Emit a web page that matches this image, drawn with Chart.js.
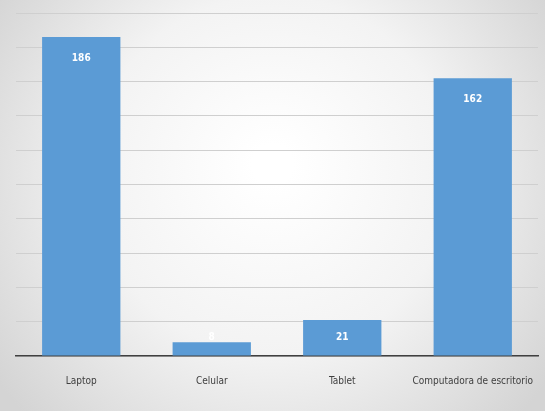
<!DOCTYPE html>
<html>
<head>
<meta charset="utf-8">
<script src="https://cdn.jsdelivr.net/npm/chart.js@4"></script>
<style>
  html, body { margin: 0; padding: 0; background: #e6e6e6; }
  #wrap { width: 545px; height: 411px; position: relative; }
</style>
</head>
<body>
<div id="wrap"><canvas id="c" width="545" height="411"></canvas></div>
<script>
// data
const categories = ["Laptop", "Celular", "Tablet", "Computadora de escritorio"];
const values = [186, 8, 21, 162];
const yMax = 200;
const yStep = 20;

const fontFam = "'DejaVu Sans Condensed', 'Liberation Sans Narrow', 'DejaVu Sans', sans-serif";

// gray radial background like the office chart
const bgPlugin = {
  id: "bg",
  beforeDraw(chart) {
    const { ctx, width, height } = chart;
    const g = ctx.createRadialGradient(width / 2, height * 0.4, 20, width / 2, height * 0.45, width * 0.62);
    g.addColorStop(0, "#ffffff");
    g.addColorStop(0.5, "#f3f3f3");
    g.addColorStop(1, "#d4d4d4");
    ctx.save();
    ctx.fillStyle = g;
    ctx.fillRect(0, 0, width, height);
    ctx.restore();
  }
};

// value labels near top of bars
const labelPlugin = {
  id: "vals",
  afterDatasetsDraw(chart) {
    const { ctx } = chart;
    const meta = chart.getDatasetMeta(0);
    ctx.save();
    ctx.fillStyle = "#ffffff";
    ctx.font = "bold 10px " + fontFam;
    ctx.textAlign = "center";
    ctx.textBaseline = "middle";
    meta.data.forEach((bar, i) => {
      const y = Math.min(bar.y + 21, bar.base - 18);
      ctx.fillText(String(values[i]), bar.x, y);
    });
    ctx.restore();
  }
};

new Chart(document.getElementById("c"), {
  type: "bar",
  data: {
    labels: categories,
    datasets: [{
      data: values,
      backgroundColor: "#5b9bd5",
      borderWidth: 0,
      categoryPercentage: 0.6,
      barPercentage: 1
    }]
  },
  options: {
    responsive: false,
    animation: false,
    layout: { padding: { left: 16, right: 7, top: 13, bottom: 13 } },
    plugins: {
      legend: { display: false },
      tooltip: { enabled: false }
    },
    scales: {
      x: {
        grid: { display: false },
        border: { display: true, color: "#404040", width: 1.5 },
        afterFit(scale) {
          scale.paddingLeft = 0;
          scale.paddingRight = 0;
        },
        ticks: {
          color: "#404040",
          font: { family: fontFam, size: 10 },
          padding: 11,
          maxRotation: 0,
          autoSkip: false
        }
      },
      y: {
        min: 0,
        max: yMax,
        ticks: { display: false, stepSize: yStep },
        border: { display: false },
        grid: { color: "#cfcfcf", lineWidth: 1, drawTicks: false }
      }
    }
  },
  plugins: [bgPlugin, labelPlugin]
});
</script>
</body>
</html>
